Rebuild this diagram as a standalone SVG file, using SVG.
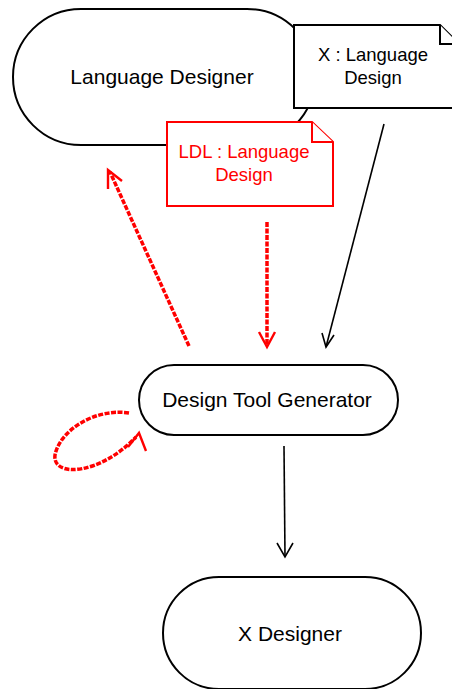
<svg xmlns="http://www.w3.org/2000/svg" width="452" height="689" viewBox="0 0 452 689">
<style>
.node{fill:#fff;stroke:#000;stroke-width:2}
.lbl{font-family:"Liberation Sans",Arial,sans-serif;font-size:21px;fill:#000;text-anchor:middle}
.nlbl{font-family:"Liberation Sans",Arial,sans-serif;font-size:18.5px;text-anchor:middle}
.note{fill:#fff;stroke:#000;stroke-width:2}
.rnote{fill:#fff;stroke:#f00;stroke-width:2}
.blk{fill:none;stroke:#000;stroke-width:1.6}
.red{fill:none;stroke:#f00;stroke-width:3.5;stroke-dasharray:5 1.5}
.redh{fill:none;stroke:#f00;stroke-width:2.4}
</style>
<rect width="452" height="689" fill="#fff"/>
<g id="language-designer">
<rect class="node" x="13" y="9" width="302" height="136" rx="68" ry="68"/>
<text class="lbl" x="162" y="84">Language Designer</text>
</g>
<g id="x-language-design-note">
<path class="note" d="M294,25 H440 L459,44 V108 H294 Z"/>
<path class="note" d="M440,25 V44 H459" fill="none"/>
<text class="nlbl" x="373" y="61" fill="#000">X : Language</text>
<text class="nlbl" x="373" y="84" fill="#000">Design</text>
</g>
<g id="ldl-language-design-note">
<path class="rnote" d="M167,122 H312 L333,142 V206 H167 Z"/>
<path class="rnote" d="M312,122 V142 H333" fill="none"/>
<text class="nlbl" x="244" y="158" fill="#f00">LDL : Language</text>
<text class="nlbl" x="244" y="181" fill="#f00">Design</text>
</g>
<g id="design-tool-generator">
<rect class="node" x="139" y="365" width="259" height="70" rx="35" ry="35"/>
<text class="lbl" x="267" y="407">Design Tool Generator</text>
</g>
<g id="x-designer">
<rect class="node" x="163" y="577" width="258" height="112" rx="56" ry="56"/>
<text class="lbl" x="290" y="641">X Designer</text>
</g>
<g id="connectors">
<path class="blk" d="M384,124 L326,347"/>
<path class="blk" d="M322,333 L326,347 L334,335"/>
<path class="red" d="M267,222 L267,345"/>
<path class="redh" d="M259,332 L267,347 L275,332"/>
<path class="red" d="M189,346 L110,172"/>
<path class="redh" d="M108,189 L108,170 L122,181"/>
<path class="red" d="M129,413 C95,408 60,430 55,455 C52,478 100,475 136,437"/>
<path class="redh" d="M128,447 L139,433 L146,451"/>
<path class="blk" d="M284,446 L285,557"/>
<path class="blk" d="M277,543 L285,557 L293,543"/>
</g>
</svg>
